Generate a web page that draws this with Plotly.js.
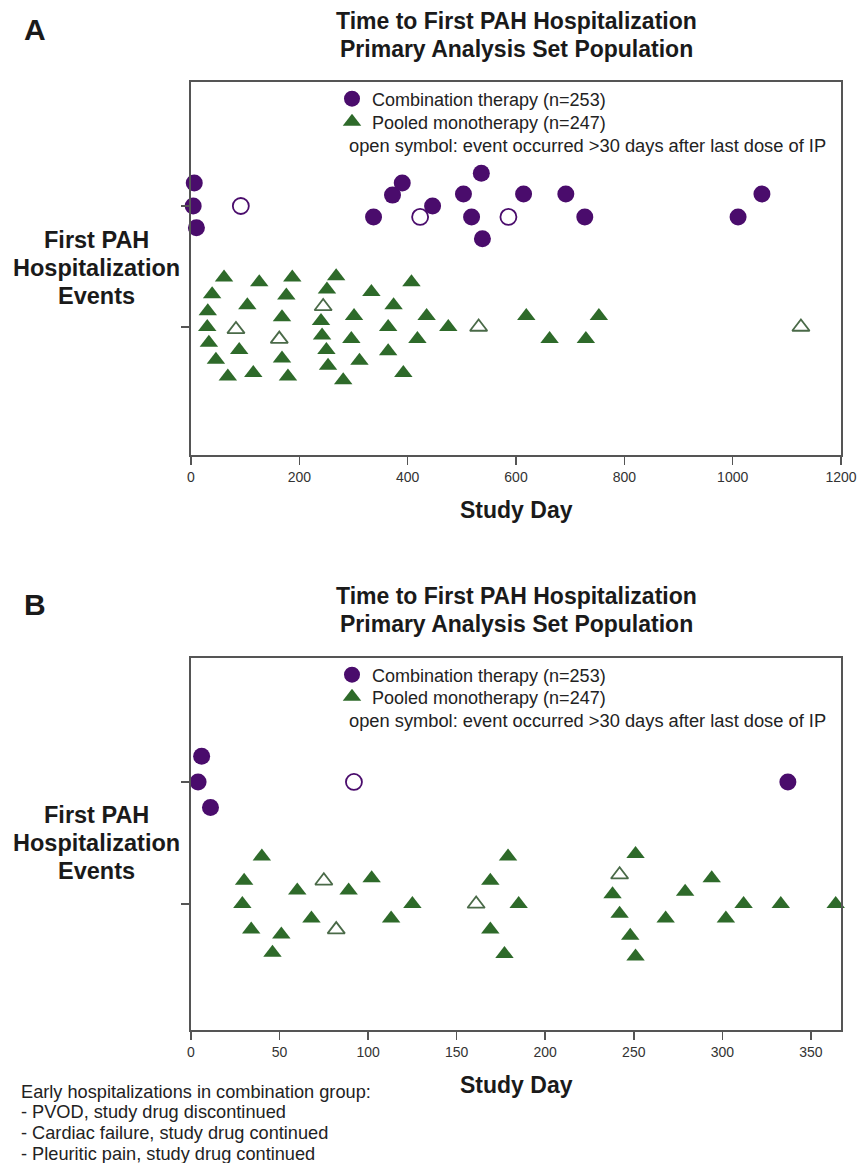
<!DOCTYPE html>
<html><head><meta charset="utf-8">
<script src="https://cdn.plot.ly/plotly-3.0.1.min.js"></script>
<style>html,body{margin:0;padding:0;background:#fff;}#chart{width:858px;height:1163px;}</style>
</head><body><div id="chart"></div>
<script>
// ---------- DATA ----------
// Panel A (study day, vertical jitter offset, open symbol flag)
const aCombDay    = [6, 4, 10, 92, 337, 372, 390, 423, 446, 503, 518, 536, 538, 586, 614, 692, 727, 1010, 1054];
const aCombJitter = [0.19, 0, -0.18, 0, -0.09, 0.09, 0.19, -0.09, 0, 0.1, -0.09, 0.27, -0.27, -0.09, 0.1, 0.1, -0.09, -0.09, 0.1];
const aCombOpen   = [0, 0, 0, 1, 0, 0, 0, 1, 0, 0, 0, 0, 0, 1, 0, 0, 0, 0, 0];

const aMonoDay    = [61, 126, 187, 268, 407, 39, 251, 333, 176, 104, 374, 244, 31, 168, 240, 301, 435, 30, 83, 364, 475, 531, 163, 242, 296, 418, 33, 89, 250, 364, 46, 168, 253, 311, 68, 115, 179, 281, 392, 619, 753, 662, 729, 1126];
const aMonoJitter = [0.41, 0.37, 0.41, 0.42, 0.37, 0.27, 0.31, 0.29, 0.26, 0.18, 0.18, 0.17, 0.13, 0.08, 0.05, 0.09, 0.09, 0, -0.02, 0, 0, 0, -0.10, -0.07, -0.10, -0.10, -0.13, -0.19, -0.19, -0.2, -0.27, -0.26, -0.32, -0.28, -0.41, -0.38, -0.41, -0.44, -0.38, 0.09, 0.09, -0.10, -0.10, 0];
const aMonoOpen   = [0, 0, 0, 0, 0, 0, 0, 0, 0, 0, 0, 1, 0, 0, 0, 0, 0, 0, 1, 0, 0, 1, 1, 0, 0, 0, 0, 0, 0, 0, 0, 0, 0, 0, 0, 0, 0, 0, 0, 0, 0, 0, 0, 1];

// Panel B
const bCombDay    = [6, 4, 11, 92, 337];
const bCombJitter = [0.21, 0, -0.21, 0, 0];
const bCombOpen   = [0, 0, 0, 1, 0];

const bMonoDay    = [40, 30, 29, 34, 46, 51, 60, 75, 68, 82, 89, 102, 113, 125, 179, 169, 161, 185, 169, 177, 251, 242, 238, 242, 248, 251, 279, 294, 268, 302, 312, 333, 364];
const bMonoJitter = [0.39, 0.19, 0, -0.21, -0.40, -0.25, 0.11, 0.19, -0.12, -0.21, 0.11, 0.21, -0.12, 0, 0.39, 0.19, 0, 0, -0.21, -0.41, 0.41, 0.24, 0.08, -0.08, -0.26, -0.43, 0.1, 0.21, -0.12, -0.12, 0, 0, 0];
const bMonoOpen   = [0, 0, 0, 0, 0, 0, 0, 1, 0, 1, 0, 0, 0, 0, 0, 0, 1, 0, 0, 0, 0, 1, 0, 0, 0, 0, 0, 0, 0, 0, 0, 0, 0];

const groupBase = {comb: 2, mono: 1};
const combName = 'Combination therapy (n=253)';
const monoName = 'Pooled monotherapy (n=247)';
const noteText = 'open symbol: event occurred &gt;30 days after last dose of IP';
const titleLines = ['Time to First PAH Hospitalization', 'Primary Analysis Set Population'];
const yLabelLines = ['First PAH', 'Hospitalization', 'Events'];
const footLines = ['Early hospitalizations in combination group:', '- PVOD, study drug discontinued', '- Cardiac failure, study drug continued', '- Pleuritic pain, study drug continued'];
const xTicksA = [0, 200, 400, 600, 800, 1000, 1200];
const xTicksB = [0, 50, 100, 150, 200, 250, 300, 350];

// ---------- STYLE ----------
const PURPLE = '#4a0c6c';
const GREEN = '#2e6a2a';
const OPEN_GREEN = '#4a6a48';
const W = 858, H = 1163;
const X = px => px / W;
const Y = py => 1 - py / H;
const FONT = 'Arial, "Liberation Sans", Helvetica, sans-serif';

function buildTraces(days, jit, open, base, kind, xa, ya, name, legendId) {
  const fx = [], fy = [], ox = [], oy = [];
  days.forEach((d, i) => {
    const yv = base + jit[i];
    if (open[i]) { ox.push(d); oy.push(yv); } else { fx.push(d); fy.push(yv); }
  });
  const isC = kind === 'comb';
  const filled = {
    type: 'scatter', mode: 'markers', x: fx, y: fy, xaxis: xa, yaxis: ya,
    name: name, legend: legendId, showlegend: true, cliponaxis: false,
    marker: isC ? {symbol: 'circle', size: 17, color: PURPLE, line: {width: 0}}
                : {symbol: 'triangle-up', size: 16, color: GREEN, line: {width: 0}}
  };
  const opn = {
    type: 'scatter', mode: 'markers', x: ox, y: oy, xaxis: xa, yaxis: ya,
    name: name + ' (open)', showlegend: false, cliponaxis: false,
    marker: isC ? {symbol: 'circle', size: 16, color: '#ffffff', line: {width: 1.8, color: PURPLE}}
                : {symbol: 'triangle-up', size: 15, color: '#ffffff', line: {width: 1.8, color: OPEN_GREEN}}
  };
  return [opn, filled];
}

const data = [].concat(
  buildTraces(aCombDay, aCombJitter, aCombOpen, groupBase.comb, 'comb', 'x', 'y', combName, 'legend'),
  buildTraces(aMonoDay, aMonoJitter, aMonoOpen, groupBase.mono, 'mono', 'x', 'y', monoName, 'legend2'),
  buildTraces(bCombDay, bCombJitter, bCombOpen, groupBase.comb, 'comb', 'x2', 'y2', combName, 'legend3'),
  buildTraces(bMonoDay, bMonoJitter, bMonoOpen, groupBase.mono, 'mono', 'x2', 'y2', monoName, 'legend4')
);

const axisCommon = {
  showline: true, mirror: true, linecolor: '#555', linewidth: 2,
  ticks: 'outside', ticklen: 8, tickwidth: 1.5, tickcolor: '#555',
  showgrid: false, zeroline: false, fixedrange: true,
  tickfont: {family: FONT, size: 14, color: '#333'}
};

function legendAt(px, py) {
  return {x: X(px), y: Y(py), xanchor: 'left', yanchor: 'middle',
    bgcolor: 'rgba(0,0,0,0)', borderwidth: 0,
    font: {family: FONT, size: 18, color: '#222'}, itemclick: false};
}

const annotations = [];
function ann(text, px, py, size, opts) {
  annotations.push(Object.assign({
    text: text, xref: 'paper', yref: 'paper', x: X(px), y: Y(py),
    xanchor: 'center', yanchor: 'middle', showarrow: false,
    font: {family: FONT, size: size, color: '#1a1a1a'}
  }, opts || {}));
}
function panelText(off, letter) {
  ann('<b>' + letter + '</b>', 35, 29 + off, 30);
  ann('<b>' + titleLines[0] + '</b>', 516, 21 + off, 23);
  ann('<b>' + titleLines[1] + '</b>', 516, 49 + off, 23);
  yLabelLines.forEach((t, i) => ann('<b>' + t + '</b>', 96, 240 + off + i * 28, 23.5));
  ann('<b>Study Day</b>', 516, 510 + off, 23);
  ann(noteText, 347, 145 + off, 18.3, {xanchor: 'left', font: {family: FONT, size: 18.3, color: '#222'}});
}
panelText(0, 'A');
panelText(575, 'B');
footLines.forEach((t, i) => ann(t, 19, 1092 + [0, 20, 41, 62][i], 18.2, {xanchor: 'left', font: {family: FONT, size: 18.2, color: '#222'}}));

const layout = {
  width: W, height: H, margin: {l: 0, r: 0, t: 0, b: 0},
  paper_bgcolor: '#fff', plot_bgcolor: '#fff',
  font: {family: FONT},
  xaxis: Object.assign({}, axisCommon, {domain: [X(191), X(841)], range: [0, 1200], tickvals: xTicksA, anchor: 'y'}),
  yaxis: Object.assign({}, axisCommon, {domain: [Y(455), Y(82)], range: [-0.058, 3.025], tickvals: [1, 2], ticktext: ['', ''], anchor: 'x'}),
  xaxis2: Object.assign({}, axisCommon, {domain: [X(191), X(841)], range: [0, 367], tickvals: xTicksB, anchor: 'y2'}),
  yaxis2: Object.assign({}, axisCommon, {domain: [Y(1030), Y(658)], range: [-0.033, 3.016], tickvals: [1, 2], ticktext: ['', ''], anchor: 'x2'}),
  legend: legendAt(332, 99),
  legend2: legendAt(332, 122),
  legend3: legendAt(332, 675),
  legend4: legendAt(332, 697),
  annotations: annotations,
  showlegend: true
};

Plotly.newPlot('chart', data, layout, {displayModeBar: false, staticPlot: true});
</script>
</body></html>
